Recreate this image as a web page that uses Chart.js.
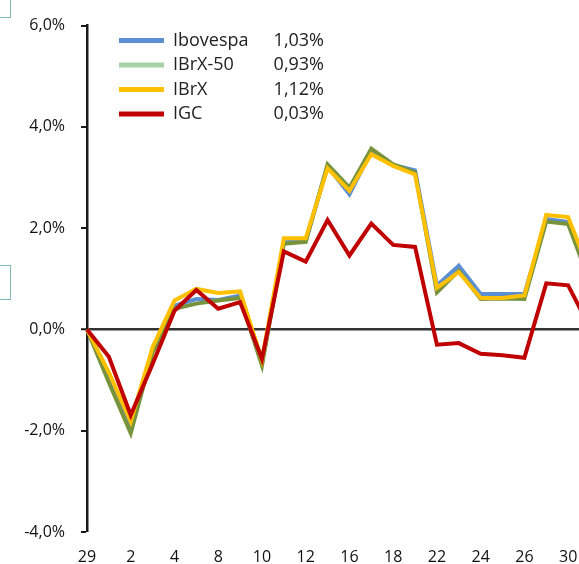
<!DOCTYPE html>
<html>
<head>
<meta charset="utf-8">
<script src="https://cdn.jsdelivr.net/npm/chart.js@4/dist/chart.umd.min.js"></script>
<style>
  html, body { margin: 0; padding: 0; background: #fff; overflow: hidden; width: 579px; height: 564px; }
  #wrap { position: relative; width: 579px; height: 564px; overflow: hidden; }
  canvas { position: absolute; left: 0; top: 0; }
  .frag { position: absolute; border: 1px solid #7fb9b9; background: #fff; }
</style>
</head>
<body>
<div id="wrap">
  <div class="frag" style="left:-30px; top:-2px; width:39px; height:18px;"></div>
  <div class="frag" style="left:-30px; top:265px; width:39px; height:33px;"></div>
  <canvas id="c" width="606" height="564"></canvas>
</div>
<script>
// Trading days (the last one falls outside the visible crop)
const categories = ['29','1','2','3','4','5','8','9','10','11','12','15','16','17','18','19','22','23','24','25','26','29','30','31'];

// Accumulated returns, %
const ibovespa = [0, -0.95, -1.95, -0.40, 0.47, 0.60, 0.58, 0.67, -0.68, 1.72, 1.75, 3.22, 2.67, 3.52, 3.25, 3.14, 0.87, 1.26, 0.70, 0.70, 0.70, 2.18, 2.12, 1.03];
const ibrx50   = [0, -1.05, -2.05, -0.45, 0.41, 0.51, 0.57, 0.62, -0.71, 1.69, 1.73, 3.26, 2.80, 3.57, 3.26, 3.10, 0.73, 1.16, 0.60, 0.61, 0.60, 2.13, 2.08, 0.93];
const ibrx     = [0, -0.85, -1.82, -0.35, 0.57, 0.80, 0.72, 0.75, -0.60, 1.80, 1.80, 3.18, 2.74, 3.46, 3.23, 3.06, 0.82, 1.13, 0.62, 0.62, 0.67, 2.26, 2.22, 1.12];
const igc      = [0, -0.54, -1.69, -0.68, 0.37, 0.78, 0.41, 0.54, -0.58, 1.54, 1.34, 2.16, 1.46, 2.09, 1.67, 1.63, -0.30, -0.27, -0.48, -0.51, -0.56, 0.91, 0.87, 0.03];

const seriesNames  = ['Ibovespa', 'IBrX-50', 'IBrX', 'IGC'];
const legendValues = ['1,03%', '0,93%', '1,12%', '0,03%'];
const yTicks = [-4, -2, 0, 2, 4, 6];

const lineColors   = ['#5B8FD1', '#77933C', '#FFC000', '#C00000'];
const swatchColors = ['#5B8FD1', '#A6D1A6', '#FFC000', '#C00000'];

const FONT = '"Open Sans", "Noto Sans", sans-serif';

const legendPlugin = {
  id: 'customLegend',
  afterDraw(chart) {
    const ctx = chart.ctx;
    ctx.save();
    const rows = [40.5, 65, 89.5, 114];
    seriesNames.forEach((name, i) => {
      const y = rows[i];
      ctx.strokeStyle = swatchColors[i];
      ctx.lineWidth = 5;
      ctx.beginPath();
      ctx.moveTo(119, y);
      ctx.lineTo(164, y);
      ctx.stroke();
      ctx.fillStyle = '#222';
      ctx.font = '18px ' + FONT;
      ctx.textBaseline = 'middle';
      ctx.textAlign = 'left';
      ctx.fillText(name, 173, y);
      ctx.textAlign = 'right';
      ctx.fillText(legendValues[i], 324, y);
    });
    ctx.restore();
  }
};

const dataSets = [ibovespa, ibrx50, ibrx, igc];
const orders = [3, 2, 1, 0];

new Chart(document.getElementById('c'), {
  type: 'line',
  data: {
    labels: categories,
    datasets: dataSets.map((d, i) => ({
      label: seriesNames[i],
      data: d,
      borderColor: lineColors[i],
      backgroundColor: lineColors[i],
      borderWidth: 4,
      pointRadius: 0,
      tension: 0,
      fill: false,
      order: orders[i],
      borderJoinStyle: 'miter'
    }))
  },
  options: {
    responsive: false,
    animation: false,
    events: [],
    layout: { padding: { top: 24, right: 11, left: 0, bottom: 0 } },
    plugins: { legend: { display: false }, tooltip: { enabled: false } },
    scales: {
      x: {
        offset: false,
        border: { display: false },
        grid: { display: false, drawTicks: false },
        afterFit(scale) { scale.height = 32; },
        ticks: {
          autoSkip: false,
          maxRotation: 0,
          minRotation: 0,
          padding: 16,
          color: '#111',
          font: { family: FONT, size: 16 },
          callback(value, index) { return index % 2 === 0 ? categories[index] : ''; }
        }
      },
      y: {
        min: -4,
        max: 6,
        afterFit(scale) { scale.width = 87; },
        afterBuildTicks(scale) { scale.ticks = yTicks.map(v => ({ value: v })); },
        border: { display: true, color: '#1a1a1a', width: 2.5 },
        grid: {
          drawOnChartArea: true,
          drawTicks: true,
          tickLength: 6,
          tickColor: '#1a1a1a',
          tickWidth: 2,
          color(ctx) { return ctx.tick && ctx.tick.value === 0 ? '#333333' : 'rgba(0,0,0,0)'; },
          lineWidth(ctx) { return ctx.tick && ctx.tick.value === 0 ? 2.5 : 0; }
        },
        ticks: {
          padding: 16,
          color: '#111',
          font: { family: FONT, size: 16 },
          callback(value) { return value.toFixed(1).replace('.', ',') + '%'; }
        }
      }
    }
  },
  plugins: [legendPlugin]
});
</script>
</body>
</html>
